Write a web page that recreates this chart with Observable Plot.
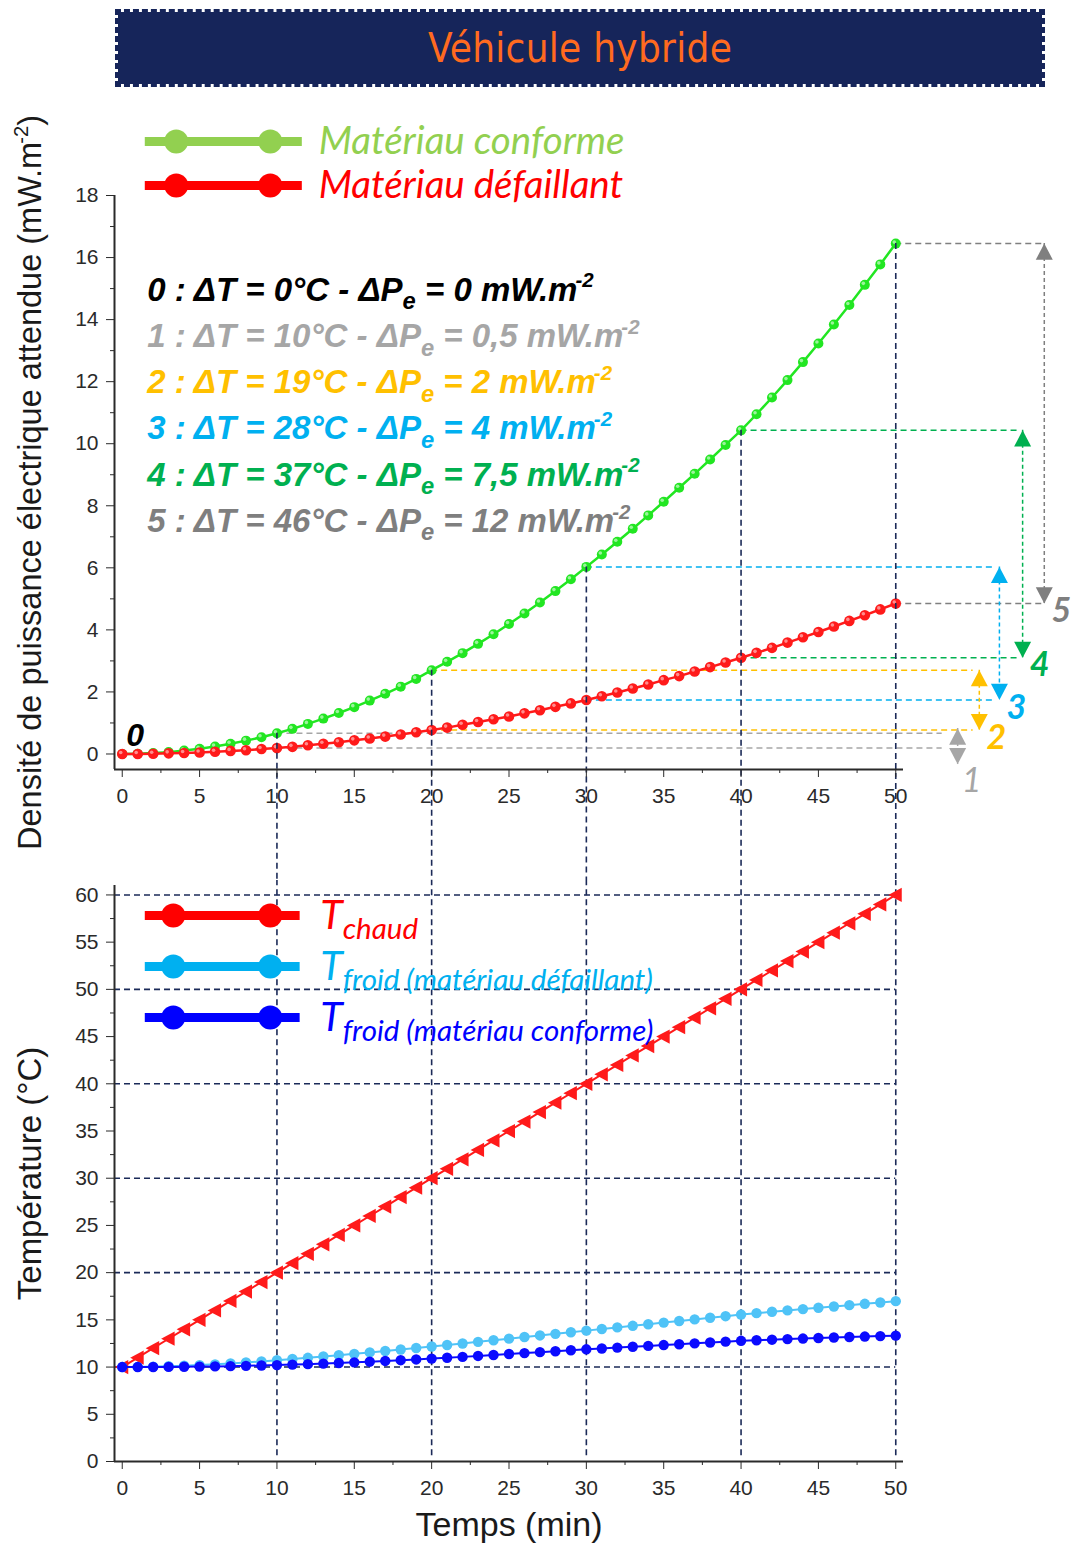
<!DOCTYPE html>
<html>
<head>
<meta charset="utf-8">
<script src="https://cdn.jsdelivr.net/npm/d3@7"></script>
<script src="https://cdn.jsdelivr.net/npm/@observablehq/plot@0.6"></script>
<style>
  html, body { margin: 0; padding: 0; background: #fff; }
  #root { position: relative; width: 1074px; height: 1544px; overflow: hidden; background: #fff; }
  #banner {
    position: absolute; left: 115px; top: 9px; width: 930px; height: 78px; box-sizing: border-box;
    background: #16255a; background-clip: padding-box; border: 3px dashed #16255a;
    display: flex; align-items: center; justify-content: center;
    color: #ff6a1f; font-family: "DejaVu Sans Condensed", "DejaVu Sans", sans-serif; font-stretch: condensed;
    font-size: 40px; letter-spacing: 0.3px;
  }
  #top { position: absolute; left: 0; top: 100px; }
  #bottom { position: absolute; left: 0; top: 880px; }
</style>
</head>
<body>
<div id="root">
  <div id="banner">Véhicule hybride</div>
  <div id="top"></div>
  <div id="bottom"></div>
</div>
<script>
// ---------- data ----------
const minutes = [0,1,2,3,4,5,6,7,8,9,10,11,12,13,14,15,16,17,18,19,20,21,22,23,24,25,26,27,28,29,30,31,32,33,34,35,36,37,38,39,40,41,42,43,44,45,46,47,48,49,50];

// Densité de puissance électrique attendue (mW.m-2)
const pConforme = [0.00,0.01,0.03,0.06,0.11,0.17,0.24,0.33,0.43,0.54,
  0.67,0.81,0.97,1.14,1.32,1.51,1.72,1.94,2.17,2.42,
  2.70,2.97,3.25,3.55,3.86,4.19,4.53,4.88,5.25,5.63,
  6.03,6.43,6.84,7.26,7.69,8.13,8.58,9.03,9.49,9.96,
  10.43,10.95,11.49,12.05,12.63,13.23,13.84,14.47,15.12,15.78,
  16.45];
const pDefaillant = [0.00,0.00,0.01,0.02,0.03,0.05,0.07,0.10,0.12,0.16,
  0.19,0.23,0.28,0.33,0.38,0.44,0.50,0.56,0.63,0.70,
  0.77,0.85,0.94,1.03,1.12,1.21,1.31,1.41,1.52,1.63,
  1.74,1.86,1.98,2.11,2.24,2.38,2.51,2.66,2.80,2.95,
  3.10,3.26,3.42,3.59,3.76,3.93,4.11,4.29,4.47,4.66,
  4.85];

// Température (°C)
const tChaud = [10,11,12,13,14,15,16,17,18,19,20,21,22,23,24,25,26,27,28,29,30,31,32,33,34,35,36,37,38,39,40,41,42,43,44,45,46,47,48,49,50,51,52,53,54,55,56,57,58,59,60];
const tFroidDef = [10.00,10.02,10.05,10.09,10.14,10.21,10.29,10.38,10.48,10.60,
  10.72,10.85,10.98,11.12,11.26,11.40,11.55,11.70,11.86,12.02,
  12.18,12.34,12.50,12.67,12.84,13.01,13.18,13.35,13.52,13.69,
  13.86,14.03,14.20,14.37,14.54,14.71,14.88,15.05,15.22,15.39,
  15.56,15.71,15.86,16.00,16.14,16.28,16.42,16.56,16.70,16.84,
  16.98];
const tFroidConf = [10.00,10.00,10.01,10.02,10.03,10.05,10.07,10.10,10.13,10.17,
  10.21,10.26,10.31,10.37,10.43,10.50,10.57,10.65,10.73,10.81,
  10.90,10.99,11.08,11.18,11.28,11.38,11.48,11.58,11.68,11.78,
  11.88,11.97,12.06,12.15,12.24,12.33,12.42,12.51,12.60,12.69,
  12.78,12.84,12.90,12.96,13.02,13.08,13.13,13.18,13.23,13.28,
  13.33];

const xTicks = [0,5,10,15,20,25,30,35,40,45,50];
const xMinor = [2.5,7.5,12.5,17.5,22.5,27.5,32.5,37.5,42.5,47.5];
const yTicksP = [0,2,4,6,8,10,12,14,16,18];
const yMinorP = [1,3,5,7,9,11,13,15,17];
const yTicksT = [0,5,10,15,20,25,30,35,40,45,50,55,60];
const yMinorT = [2.5,7.5,12.5,17.5,22.5,27.5,32.5,37.5,42.5,47.5,52.5,57.5];
const gridT = [10,20,30,40,50,60];
const markTimes = [10,20,30,40,50];

const deltaLabels = [
  "0 : ΔT = 0°C - ΔP_{e} = 0 mW.m^{-2}",
  "1 : ΔT = 10°C - ΔP_{e} = 0,5 mW.m^{-2}",
  "2 : ΔT = 19°C - ΔP_{e} = 2 mW.m^{-2}",
  "3 : ΔT = 28°C - ΔP_{e} = 4 mW.m^{-2}",
  "4 : ΔT = 37°C - ΔP_{e} = 7,5 mW.m^{-2}",
  "5 : ΔT = 46°C - ΔP_{e} = 12 mW.m^{-2}"
];
const deltaColors = ["#000000", "#a6a6a6", "#ffc000", "#00b0f0", "#00b050", "#7f7f7f"];
const levelNames = ["1", "2", "3", "4", "5"];

const legendP = [
  {label: "Matériau conforme", color: "#92d050"},
  {label: "Matériau défaillant", color: "#ff0000"}
];
const legendT = [
  {label: "T_{chaud}", color: "#ff0000"},
  {label: "T_{froid (matériau défaillant)}", color: "#00b0f0"},
  {label: "T_{froid (matériau conforme)}", color: "#0000ff"}
];

// ---------- layout / style ----------
const navy = "#1b2a58";
const green = "#22e622";
const red = "#ff1a1a";
const lightBlue = "#4fc3f7";
const darkBlue = "#0a0aff";
const axisColor = "#2a2a2a";
const xDomain = [-0.5, 50.5];
const yDomainP = [-0.5, 18];
const yDomainT = [0, 61];
const lineEnds = [53.0, 55.0, 56.3, 58.0, 59.5];
const arrowXs = [54.0, 55.4, 56.7, 58.2, 59.6];

const triUp = {draw(ctx, size) { const r = Math.sqrt(size / Math.PI); ctx.moveTo(0, -r); ctx.lineTo(r, r * 0.9); ctx.lineTo(-r, r * 0.9); ctx.closePath(); }};
const triDown = {draw(ctx, size) { const r = Math.sqrt(size / Math.PI); ctx.moveTo(0, r); ctx.lineTo(r, -r * 0.9); ctx.lineTo(-r, -r * 0.9); ctx.closePath(); }};
const triLeft = {draw(ctx, size) { const r = Math.sqrt(size / Math.PI); ctx.moveTo(-r, 0); ctx.lineTo(r * 0.8, -r * 0.95); ctx.lineTo(r * 0.8, r * 0.95); ctx.closePath(); }};

const powerRows = minutes.map((t, i) => ({t, conf: pConforme[i], def: pDefaillant[i]}));
const tempRows = minutes.map((t, i) => ({t, chaud: tChaud[i], def: tFroidDef[i], conf: tFroidConf[i]}));

const levels = markTimes.map((t, i) => {
  const hi = pConforme[minutes.indexOf(t)], lo = pDefaillant[minutes.indexOf(t)];
  const tight = hi - lo < 1;
  return {t, hi, lo, color: deltaColors[i + 1], end: lineEnds[i], ax: arrowXs[i], label: levelNames[i],
    tipHi: tight ? hi + 0.15 : hi, tipLo: tight ? lo - 0.52 : lo,
    ly: tight ? lo - 1.06 : lo - 0.25, bold: !tight};
});
const hLines = levels.flatMap(l => [{x1: l.t, x2: l.end, y: l.hi, color: l.color}, {x1: l.t, x2: l.end, y: l.lo, color: l.color}]);

// rich text: _{sub} and ^{sup}
function richify(svg) {
  const ns = "http://www.w3.org/2000/svg";
  svg.querySelectorAll("text").forEach(t => {
    const s = t.textContent;
    if (!/[_^]\{/.test(s)) return;
    const base = parseFloat(getComputedStyle(t).fontSize) || 16;
    const parts = [];
    const re = /([_^])\{([^}]*)\}/g;
    let last = 0, m;
    while ((m = re.exec(s))) {
      if (m.index > last) parts.push({type: "", text: s.slice(last, m.index)});
      parts.push({type: m[1], text: m[2]});
      last = re.lastIndex;
    }
    if (last < s.length) parts.push({type: "", text: s.slice(last)});
    while (t.firstChild) t.removeChild(t.firstChild);
    let shift = 0;
    for (const p of parts) {
      const ts = document.createElementNS(ns, "tspan");
      const target = p.type === "_" ? base * 0.26 : p.type === "^" ? -base * 0.4 : 0;
      if (target !== shift) ts.setAttribute("dy", (target - shift).toFixed(2));
      shift = target;
      if (p.type) ts.setAttribute("font-size", (base * (p.type === "_" ? 0.72 : 0.62)).toFixed(2));
      if (p.type === "^") ts.setAttribute("dx", (-base * 0.06).toFixed(2));
      ts.textContent = p.text;
      t.appendChild(ts);
    }
  });
}

const baseStyle = {fontFamily: "'Liberation Sans', Arial, sans-serif", fontSize: "21px", color: axisColor, background: "transparent", overflow: "hidden"};

// ---------- top chart ----------
const topPlot = Plot.plot({
  width: 1074, height: 780,
  marginLeft: 114, marginRight: 171, marginTop: 95, marginBottom: 111,
  x: {domain: xDomain},
  y: {domain: yDomainP},
  color: {type: "identity"},
  style: baseStyle,
  marks: [
    Plot.ruleY(hLines, {y: "y", x1: "x1", x2: "x2", stroke: "color", strokeWidth: 1.5, strokeDasharray: "6,4"}),
    Plot.ruleX(levels, {x: "ax", y1: "tipHi", y2: "tipLo", stroke: "color", strokeWidth: 1.5, strokeDasharray: "4,3"}),
    Plot.dot(levels, {x: "ax", y: "tipHi", symbol: triUp, r: 8.5, fill: "color", dy: 8.5}),
    Plot.dot(levels, {x: "ax", y: "tipLo", symbol: triDown, r: 8.5, fill: "color", dy: -8.5}),
    Plot.line(powerRows, {x: "t", y: "conf", stroke: green, strokeWidth: 2.5}),
    Plot.dot(powerRows, {x: "t", y: "conf", r: 5, fill: green}),
    Plot.dot(powerRows, {x: "t", y: "conf", r: 1.8, fill: "white", fillOpacity: 0.55, dx: -1.5, dy: -1.5}),
    Plot.line(powerRows, {x: "t", y: "def", stroke: red, strokeWidth: 2.5}),
    Plot.dot(powerRows, {x: "t", y: "def", r: 5.3, fill: red}),
    Plot.dot(powerRows, {x: "t", y: "def", r: 1.8, fill: "white", fillOpacity: 0.5, dx: -1.5, dy: -1.5}),
    Plot.ruleX(levels, {x: "t", y1: "hi", y2: () => -4.3, stroke: navy, strokeWidth: 1.6, strokeDasharray: "6,4"}),
    // axes
    Plot.ruleX([xDomain[0]], {y1: () => yDomainP[0], y2: () => yDomainP[1], stroke: axisColor, strokeWidth: 2}),
    Plot.ruleY([yDomainP[0]], {x1: () => xDomain[0], x2: () => xDomain[1], stroke: axisColor, strokeWidth: 2}),
    Plot.axisX({ticks: xTicks, tickSize: 8, tickPadding: 11, label: null, fontSize: 21}),
    Plot.axisX({ticks: xMinor, tickSize: 4, fill: "none", label: null}),
    Plot.axisY({ticks: yTicksP, tickSize: 8, tickPadding: 8, label: null, fontSize: 21}),
    Plot.axisY({ticks: yMinorP, tickSize: 4, fill: "none", label: null}),
    Plot.text(["Densité de puissance électrique attendue (mW.m^{-2})"], {text: d => d, frameAnchor: "left", rotate: -90, dx: -84, fontSize: 32.5, fill: "#1a1a1a", textAnchor: "middle"}),
    // legend
    Plot.ruleY(legendP, {y: (d, i) => 19.74 - i * 1.42, x1: () => 1.49, x2: () => 11.64, stroke: "color", strokeWidth: 9}),
    Plot.dot(legendP.flatMap((d, i) => [3.49, 9.57].map(x => ({x, y: 19.74 - i * 1.42, color: d.color}))), {x: "x", y: "y", r: 12, fill: "color"}),
    Plot.text(legendP, {x: () => 12.7, y: (d, i) => 19.74 - i * 1.42, text: "label", fill: "color", fontSize: 38.5, fontStyle: "italic", fontFamily: "Lato", textAnchor: "start", lineAnchor: "middle"}),
    // delta annotations
    Plot.text(deltaLabels, {x: () => 1.62, y: (d, i) => 14.61 - i * 1.49, text: d => d, fill: (d, i) => deltaColors[i], textAnchor: "start", lineAnchor: "bottom", fontSize: 33, fontWeight: "bold", fontStyle: "italic"}),
    Plot.text(["0"], {x: () => 0.84, y: () => 0.27, text: d => d, fill: "#000", fontSize: 32, fontWeight: "bold", fontStyle: "italic", lineAnchor: "bottom"}),
    Plot.text(levels.filter(l => l.bold), {x: d => d.ax + 1.1, y: "ly", text: "label", fill: "color", fontSize: 34, fontWeight: "bold", fontStyle: "italic", fontFamily: "Lato", lineAnchor: "middle"}),
    Plot.text(levels.filter(l => !l.bold), {x: d => d.ax + 0.9, y: "ly", text: "label", fill: "color", fontSize: 34, fontStyle: "italic", fontFamily: "Lato", lineAnchor: "middle"})
  ]
});
document.getElementById("top").appendChild(topPlot);
richify(topPlot);

// ---------- bottom chart ----------
const bottomPlot = Plot.plot({
  width: 1074, height: 664,
  marginLeft: 114, marginRight: 171, marginTop: 5, marginBottom: 83,
  x: {domain: xDomain},
  y: {domain: yDomainT},
  color: {type: "identity"},
  style: baseStyle,
  marks: [
    Plot.ruleY(gridT, {x1: () => xDomain[0], x2: () => 50, stroke: navy, strokeWidth: 1.6, strokeDasharray: "6,4"}),
    Plot.ruleX(markTimes, {y1: () => 0.6, y2: () => 62, stroke: navy, strokeWidth: 1.6, strokeDasharray: "6,4"}),
    Plot.line(tempRows, {x: "t", y: "chaud", stroke: red, strokeWidth: 2}),
    Plot.dot(tempRows, {x: "t", y: "chaud", symbol: triLeft, r: 7.5, fill: red}),
    Plot.line(tempRows, {x: "t", y: "def", stroke: lightBlue, strokeWidth: 2}),
    Plot.dot(tempRows, {x: "t", y: "def", r: 5.2, fill: lightBlue}),
    Plot.line(tempRows, {x: "t", y: "conf", stroke: darkBlue, strokeWidth: 2}),
    Plot.dot(tempRows, {x: "t", y: "conf", r: 5.2, fill: darkBlue}),
    // axes
    Plot.ruleX([xDomain[0]], {y1: () => yDomainT[0], y2: () => yDomainT[1], stroke: axisColor, strokeWidth: 2}),
    Plot.ruleY([yDomainT[0]], {x1: () => xDomain[0], x2: () => xDomain[1], stroke: axisColor, strokeWidth: 2}),
    Plot.axisX({ticks: xTicks, tickSize: 8, tickPadding: 11, label: null, fontSize: 21}),
    Plot.axisX({ticks: xMinor, tickSize: 4, fill: "none", label: null}),
    Plot.axisY({ticks: yTicksT, tickSize: 8, tickPadding: 8, label: null, fontSize: 21}),
    Plot.axisY({ticks: yMinorT, tickSize: 4, fill: "none", label: null}),
    Plot.text(["Température (°C)"], {text: d => d, frameAnchor: "left", rotate: -90, dx: -84, fontSize: 33, fill: "#1a1a1a", textAnchor: "middle"}),
    Plot.text(["Temps (min)"], {text: d => d, frameAnchor: "bottom", dy: 74, fontSize: 34, fill: "#1a1a1a"}),
    // legend
    Plot.ruleY(legendT, {y: (d, i) => 57.82 - i * 5.4, x1: () => 1.49, x2: () => 11.5, stroke: "color", strokeWidth: 9}),
    Plot.dot(legendT.flatMap((d, i) => [3.3, 9.57].map(x => ({x, y: 57.82 - i * 5.4, color: d.color}))), {x: "x", y: "y", r: 12, fill: "color"}),
    Plot.text(legendT, {x: () => 12.8, y: (d, i) => 56.44 - i * 5.4, text: "label", fill: "color", fontSize: 41, fontStyle: "italic", fontFamily: "Lato", textAnchor: "start", lineAnchor: "bottom"})
  ]
});
document.getElementById("bottom").appendChild(bottomPlot);
richify(bottomPlot);
</script>
</body>
</html>
